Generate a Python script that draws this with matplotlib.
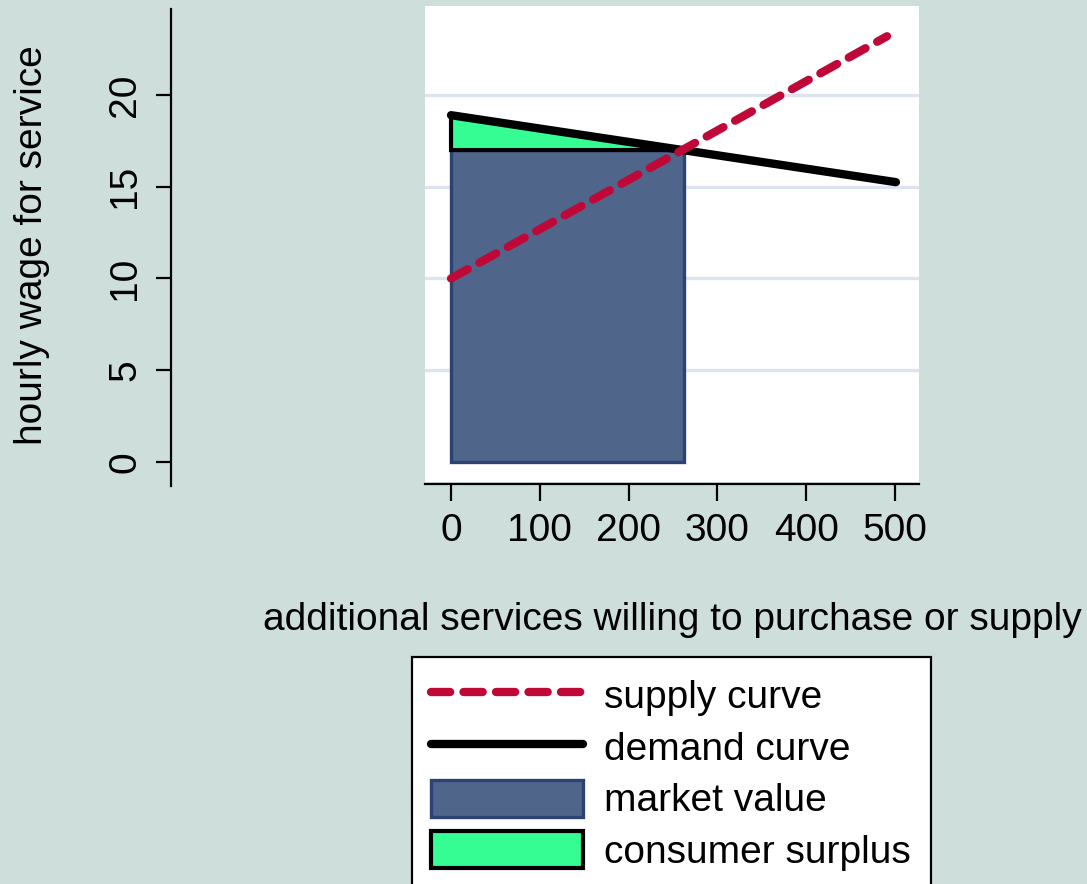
import numpy as np
import matplotlib
matplotlib.use("Agg")
from matplotlib import pyplot as plt
from matplotlib.patches import Rectangle, Polygon

plt.rcParams['font.family'] = ['Liberation Sans', 'DejaVu Sans']

# data
supply_q = [0, 491]
supply_p = [10.0, 23.2]
demand_q = [0, 501]
demand_p = [18.9, 15.25]
eq_q = 262
eq_p = 17.0
xticks = [0, 100, 200, 300, 400, 500]
yticks = [0, 5, 10, 15, 20]

bg = '#CEDFDB'
fs = 28
fig = plt.figure(figsize=(10.87, 8.84), dpi=100, facecolor=bg)
ax = fig.add_axes([425/1087, 1-482/884, 494/1087, 476/884])
ax.set_facecolor('white')

ax.set_xlim(-29.3, 527)
ax.set_ylim(-1.09, 24.85)

for y in yticks[1:]:
    ax.axhline(y, color='#DDE3EF', lw=2.4, zorder=1)

# market value rectangle
mv = Rectangle((0, 0), eq_q, eq_p, facecolor='#50658A', edgecolor='#2B4272',
               lw=2.4, zorder=2, label='market value')
ax.add_patch(mv)
# consumer surplus triangle
cs = Polygon([(0, eq_p), (0, demand_p[0]), (eq_q, eq_p)], closed=True,
             facecolor='#35FD94', edgecolor='black', lw=3, zorder=3,
             label='consumer surplus')
ax.add_patch(cs)

dl, = ax.plot(demand_q, demand_p, color='black', lw=6,
              solid_capstyle='round', zorder=4, label='demand curve')
sl, = ax.plot(supply_q, supply_p, color='#C00838', lw=6, dashes=(2.3, 1.6),
              dash_capstyle='round', zorder=5, label='supply curve')

# axes styling (Stata-like)
for s in ['top', 'right']:
    ax.spines[s].set_visible(False)
ax.spines['left'].set_position(('outward', 183))
ax.spines['bottom'].set_position(('outward', 1.5))
ax.spines['left'].set_linewidth(1.6)
ax.spines['bottom'].set_linewidth(1.6)
ax.spines['left'].set_bounds(-1.3, 24.7)

ax.set_xticks(xticks)
ax.set_yticks(yticks)
ax.tick_params(axis='x', length=12, width=1.6, pad=9, labelsize=fs)
ax.tick_params(axis='y', length=11, width=1.6, pad=9, labelsize=fs)
for lab in ax.get_yticklabels():
    lab.set_rotation(90)
    lab.set_va('center')

fig.text(672/1087, 1-620/884, 'additional services willing to purchase or supply',
         fontsize=fs, ha='center', va='center')
fig.text(32/1087, 1-245/884, 'hourly wage for service', fontsize=fs,
         rotation=90, ha='center', va='center')

leg = fig.legend([sl, dl, mv, cs],
                 ['supply curve', 'demand curve', 'market value', 'consumer surplus'],
                 loc='upper left', bbox_to_anchor=(412/1087, 1-657/884),
                 fontsize=fs, frameon=True, fancybox=False, edgecolor='black',
                 framealpha=1, facecolor='white',
                 handlelength=3.9, handleheight=1.1, labelspacing=0.3,
                 borderpad=0.5, handletextpad=0.55, borderaxespad=0)
leg.get_frame().set_linewidth(1.6)

fig.savefig('out.png', dpi=100, facecolor=bg)
